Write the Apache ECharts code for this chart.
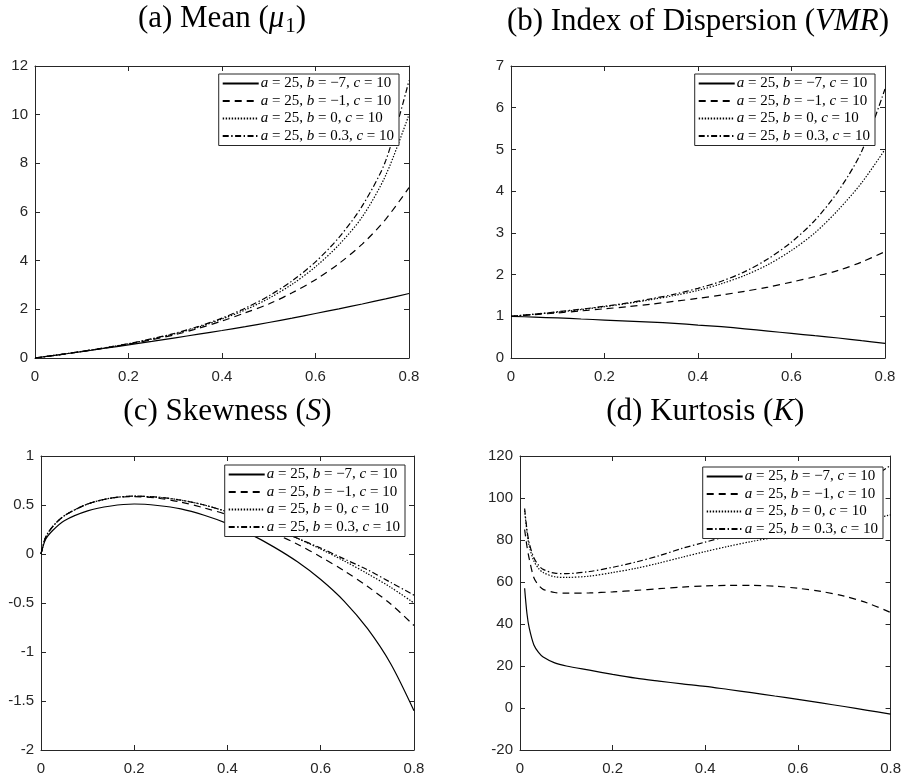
<!DOCTYPE html>
<html><head><meta charset="utf-8">
<script src="https://cdn.jsdelivr.net/npm/echarts@6/dist/echarts.min.js"></script>
<style>html,body{margin:0;padding:0;background:#fff}#c{width:904px;height:781px}</style>
</head><body><div id="c"></div>
<script>
// ---------- data ----------
const seriesNames = ['b=-7', 'b=-1', 'b=0', 'b=0.3'];
const legendLabels = ['{i|a} = 25, {i|b} = \u22127, {i|c} = 10', '{i|a} = 25, {i|b} = \u22121, {i|c} = 10', '{i|a} = 25, {i|b} = 0, {i|c} = 10', '{i|a} = 25, {i|b} = 0.3, {i|c} = 10'];

const xAB = [0, 0.05, 0.1, 0.15, 0.2, 0.25, 0.3, 0.35, 0.4, 0.45, 0.5, 0.55, 0.6, 0.65, 0.7, 0.75, 0.8];
// (a) Mean
const meanBm7 = [0, 0.13, 0.26, 0.40, 0.54, 0.68, 0.83, 0.98, 1.13, 1.29, 1.46, 1.64, 1.83, 2.02, 2.22, 2.43, 2.65];
const meanBm1 = [0, 0.13, 0.27, 0.41, 0.57, 0.75, 0.96, 1.22, 1.52, 1.86, 2.22, 2.68, 3.22, 3.88, 4.68, 5.7, 7.0];
const meanB0 = [0, 0.13, 0.27, 0.42, 0.58, 0.78, 1.0, 1.27, 1.6, 1.98, 2.45, 3.03, 3.75, 4.65, 5.8, 7.5, 10.0];
const meanB03 = [0, 0.13, 0.27, 0.42, 0.59, 0.79, 1.02, 1.3, 1.64, 2.05, 2.55, 3.17, 3.95, 4.95, 6.25, 8.1, 11.4];
// (b) VMR
const vmrBm7 = [1.0, 0.98, 0.96, 0.935, 0.91, 0.885, 0.86, 0.83, 0.79, 0.75, 0.70, 0.645, 0.59, 0.535, 0.48, 0.415, 0.35];
const vmrBm1 = [1.0, 1.04, 1.08, 1.13, 1.18, 1.23, 1.29, 1.36, 1.43, 1.51, 1.6, 1.7, 1.82, 1.95, 2.1, 2.3, 2.55];
const vmrB0 = [1.0, 1.05, 1.1, 1.16, 1.23, 1.31, 1.4, 1.5, 1.62, 1.78, 1.98, 2.24, 2.58, 3.0, 3.55, 4.2, 5.0];
const vmrB03 = [1.0, 1.05, 1.11, 1.17, 1.24, 1.32, 1.42, 1.53, 1.67, 1.84, 2.07, 2.38, 2.78, 3.3, 4.0, 4.95, 6.45];
// (c) Skewness
const xC = [0, 0.01, 0.025, 0.05, 0.1, 0.15, 0.2, 0.25, 0.3, 0.35, 0.4, 0.45, 0.5, 0.55, 0.6, 0.65, 0.7, 0.75, 0.8];
const skBm7 = [0, 0.15, 0.24, 0.34, 0.44, 0.49, 0.51, 0.495, 0.46, 0.395, 0.31, 0.2, 0.07, -0.08, -0.26, -0.48, -0.76, -1.12, -1.6];
const skBm1 = [0, 0.17, 0.28, 0.39, 0.51, 0.57, 0.585, 0.57, 0.53, 0.47, 0.4, 0.31, 0.21, 0.1, -0.03, -0.17, -0.33, -0.51, -0.73];
const skB0 = [0, 0.17, 0.28, 0.39, 0.51, 0.57, 0.59, 0.58, 0.55, 0.5, 0.43, 0.35, 0.26, 0.16, 0.05, -0.07, -0.2, -0.34, -0.5];
const skB03 = [0, 0.17, 0.28, 0.39, 0.51, 0.57, 0.59, 0.58, 0.55, 0.5, 0.43, 0.35, 0.26, 0.16, 0.06, -0.05, -0.16, -0.29, -0.42];
// (d) Kurtosis
const xD = [0.01, 0.015, 0.02, 0.03, 0.04, 0.05, 0.075, 0.1, 0.15, 0.2, 0.25, 0.3, 0.35, 0.4, 0.45, 0.5, 0.55, 0.6, 0.65, 0.7, 0.75, 0.8];
const kuBm7 = [57, 45, 38, 30, 26.5, 24.3, 21.5, 20, 18, 16, 14.2, 12.8, 11.5, 10.3, 8.8, 7.3, 5.7, 4.1, 2.4, 0.7, -1.1, -2.9];
const kuBm1 = [85, 77, 71, 62, 58.5, 56.5, 55, 54.7, 54.8, 55.3, 56, 56.8, 57.6, 58.1, 58.4, 58.4, 58, 57, 55.5, 53.3, 50, 45.5];
const kuB0 = [94, 84, 77, 70, 66.5, 64.5, 62.5, 62.2, 62.8, 64.5, 66.5, 69, 71.8, 74.5, 77, 79.3, 81.3, 83.3, 85.3, 87.3, 89.5, 92];
const kuB03 = [95, 85, 78.5, 71.5, 68, 66, 64.2, 64, 65, 67, 69.5, 72.5, 76, 79, 82, 85.5, 89, 93, 97.5, 102.5, 108.5, 115.5];

// ---------- styles ----------
const AX = '#262626';
const lineTypes = ['solid', [7, 5], [1.4, 1.6], [6, 2.5, 1.4, 2.5]];
const panels = [
  {title: '(a) Mean ({i|\u03bc}{sub|1})', x: xAB, ys: [meanBm7, meanBm1, meanB0, meanB03], ymin: 0, ymax: 12, yint: 2,
   grid: {left: 35, top: 66, width: 374, height: 292}, legend: {right: 505, top: 74}},
  {title: '(b) Index of Dispersion ({i|VMR})', x: xAB, ys: [vmrBm7, vmrBm1, vmrB0, vmrB03], ymin: 0, ymax: 7, yint: 1,
   grid: {left: 511, top: 66, width: 374, height: 292}, legend: {right: 29, top: 74}},
  {title: '(c) Skewness ({i|S})', x: xC, ys: [skBm7, skBm1, skB0, skB03], ymin: -2, ymax: 1, yint: 0.5,
   grid: {left: 41, top: 456, width: 373, height: 294}, legend: {right: 499, top: 465}},
  {title: '(d) Kurtosis ({i|K})', x: xD, ys: [kuBm7, kuBm1, kuB0, kuB03], ymin: -20, ymax: 120, yint: 20,
   grid: {left: 520, top: 456, width: 374, height: 294}, legend: {right: 21, top: 467}}
];

const TF = 31;
const titleRich = {
  i: {fontFamily: 'Liberation Serif', fontStyle: 'italic', fontSize: TF, color: '#000'},
  sub: {fontFamily: 'Liberation Serif', fontSize: 21, color: '#000', verticalAlign: 'bottom', padding: [16, 0, 0, 1]}
};

const grids = [], xAxes = [], yAxes = [], series = [], legends = [];
panels.forEach((p, i) => {
  grids.push(Object.assign({containLabel: false}, p.grid));
  const common = {
    gridIndex: i, type: 'value',
    axisLine: {show: true, onZero: false, lineStyle: {color: AX, width: 1}},
    axisTick: {show: true, inside: true, length: 5, lineStyle: {color: AX, width: 1}},
    splitLine: {show: false}
  };
  const lbl = {color: AX, fontFamily: 'Liberation Sans', fontSize: 15};
  xAxes.push(Object.assign({}, common, {position: 'bottom', min: 0, max: 0.8, interval: 0.2,
    axisLabel: Object.assign({margin: 11}, lbl)}));
  xAxes.push(Object.assign({}, common, {position: 'top', min: 0, max: 0.8, interval: 0.2, axisLabel: {show: false},
    name: p.title, nameLocation: 'middle', nameGap: 29,
    nameTextStyle: {fontFamily: 'Liberation Serif', fontSize: TF, color: '#000', rich: titleRich}}));
  yAxes.push(Object.assign({}, common, {position: 'left', min: p.ymin, max: p.ymax, interval: p.yint,
    axisLabel: Object.assign({margin: 7}, lbl)}));
  yAxes.push(Object.assign({}, common, {position: 'right', min: p.ymin, max: p.ymax, interval: p.yint, axisLabel: {show: false}}));
  p.ys.forEach((ys, k) => {
    series.push({
      name: seriesNames[k], type: 'line', xAxisIndex: 2 * i, yAxisIndex: 2 * i,
      data: p.x.map((xv, j) => [xv, ys[j]]),
      symbol: 'none', smooth: 0.3,
      lineStyle: {color: '#000', width: 1.2, type: lineTypes[k]},
      itemStyle: {color: '#000'}, z: 2
    });
  });
  legends.push({
    orient: 'vertical', right: p.legend.right, top: p.legend.top,
    data: seriesNames, itemWidth: 36, itemHeight: 14, itemGap: 2.5,
    backgroundColor: '#fff', borderColor: AX, borderWidth: 1, padding: [2, 5, 2, 3],
    selectedMode: false, z: 10,
    itemStyle: {opacity: 0},
    formatter: name => legendLabels[seriesNames.indexOf(name)],
    textStyle: {fontFamily: 'Liberation Serif', fontSize: 15, color: '#000', padding: [0, 0, 0, -3],
      rich: {i: {fontFamily: 'Liberation Serif', fontStyle: 'italic', fontSize: 15, color: '#000'}}}
  });
});

const chart = echarts.init(document.getElementById('c'), null, {renderer: 'canvas'});
chart.setOption({
  animation: false, backgroundColor: '#fff',
  grid: grids, xAxis: xAxes, yAxis: yAxes, legend: legends, series: series
});
</script></body></html>
